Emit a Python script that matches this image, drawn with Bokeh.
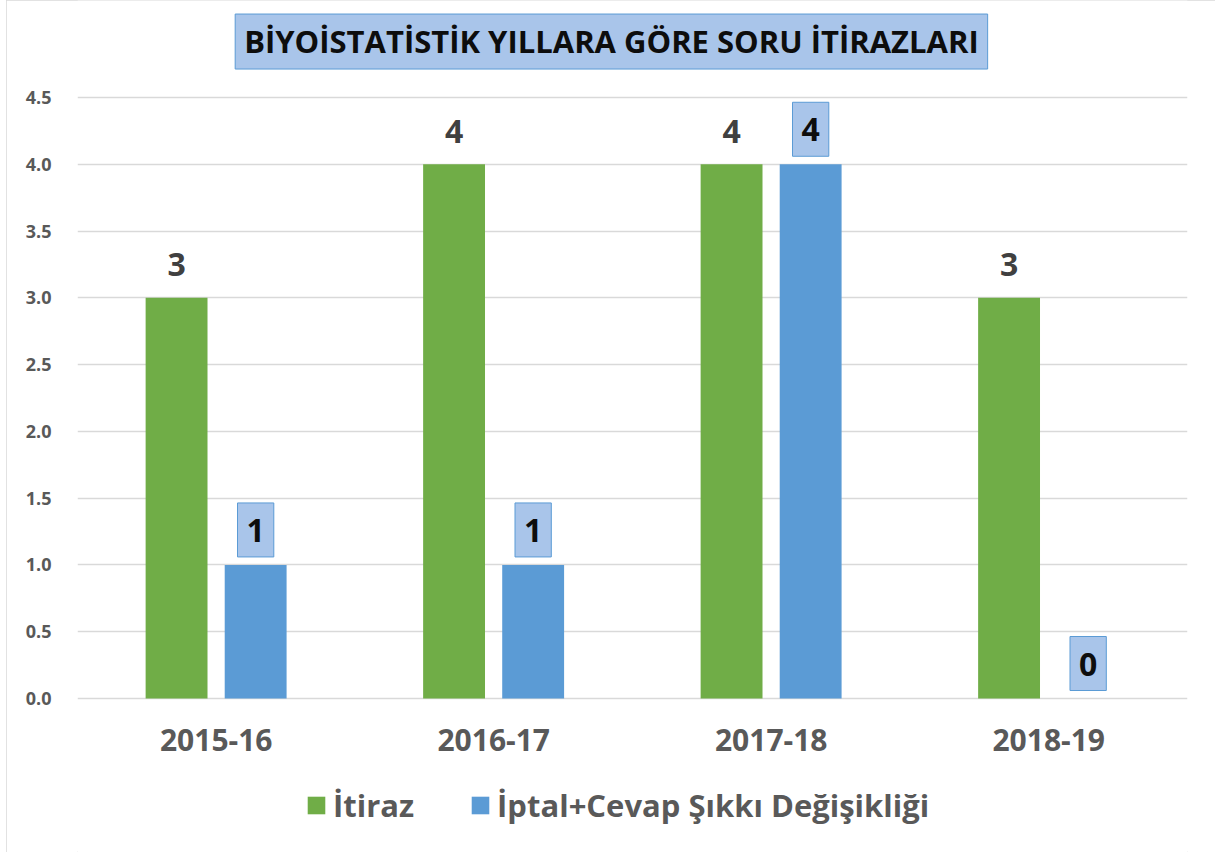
from bokeh.plotting import figure
from bokeh.models import (ColumnDataSource, FactorRange, Range1d, LabelSet, Label,
                          Legend, LegendItem, FixedTicker, NumeralTickFormatter)
from bokeh.core.properties import value
from bokeh.transform import dodge
from bokeh.embed import file_html
from bokeh.resources import INLINE

years = ["2015-16", "2016-17", "2017-18", "2018-19"]
itiraz = [3, 4, 4, 3]
iptal = [1, 1, 4, 0]
y_ticks = [0.0, 0.5, 1.0, 1.5, 2.0, 2.5, 3.0, 3.5, 4.0, 4.5]
title_text = "BİYOİSTATİSTİK YILLARA GÖRE SORU İTİRAZLARI"
series_names = ["İtiraz", "İptal+Cevap Şıkkı Değişikliği"]

GREEN = "#70ad47"
BLUE = "#5b9bd5"
GRAY = "#595959"
FONT = "Open Sans"
OFF_G = -0.143
OFF_B = 0.142

src = ColumnDataSource(dict(
    year=years, itiraz=itiraz, iptal=iptal,
    itiraz_txt=[str(v) for v in itiraz],
))

p = figure(x_range=FactorRange(*years, range_padding=0), y_range=Range1d(-1.153, 5.2263),
           width=1209, height=852, output_backend="svg", toolbar_location=None,
           min_border_left=71, min_border_right=28, min_border_top=0, min_border_bottom=0)
p.styles = {"margin-left": "6px", "outline": "1px solid #d9d9d9", "outline-offset": "-1px"}
p.outline_line_color = None
p.background_fill_color = "white"
p.border_fill_color = "white"

g = p.vbar(x=dodge("year", OFF_G, range=p.x_range), top="itiraz", width=0.223,
           source=src, fill_color=GREEN, line_color=None)
b = p.vbar(x=dodge("year", OFF_B, range=p.x_range), top="iptal", width=0.223,
           source=src, fill_color=BLUE, line_color=None)

lab_g = LabelSet(x=dodge("year", OFF_G, range=p.x_range), y="itiraz", text="itiraz_txt",
                 source=src, text_align="center", text_baseline="middle", y_offset=33,
                 text_font=value(FONT), text_font_style="bold", text_font_size="32px",
                 text_color="#404040")
p.add_layout(lab_g)

for i, v in enumerate(iptal):
    p.add_layout(Label(x=i + 0.5 + OFF_B, y=v, text=str(v), y_offset=8,
                       text_align="center", text_baseline="bottom",
                       text_font=FONT, text_font_style="bold", text_font_size="32px",
                       text_color="#0d0d0d", background_fill_color="#a9c5ea",
                       border_line_color=BLUE, border_line_width=1,
                       padding=dict(left=9, right=9, top=16, bottom=15)))

title = Label(x=1.924, y=4.919, text=title_text, text_align="center", text_baseline="middle",
              text_font=FONT, text_font_style="bold", text_font_size="31px",
              text_color="#0d0d0d", background_fill_color="#a9c5ea",
              border_line_color=BLUE, border_line_width=1,
              padding=dict(left=9, right=9, top=6, bottom=7))
p.add_layout(title)

p.xaxis.fixed_location = 0
p.yaxis.ticker = FixedTicker(ticks=y_ticks)
p.yaxis.formatter = NumeralTickFormatter(format="0.0")
for ax in (p.xaxis, p.yaxis):
    ax.axis_line_color = None
    ax.major_tick_line_color = None
    ax.minor_tick_line_color = None
    ax.major_label_text_font = FONT
    ax.major_label_text_font_style = "bold"
    ax.major_label_text_color = GRAY
p.yaxis.major_label_text_font_size = "18px"
p.yaxis.major_label_standoff = 20
p.xaxis.major_label_text_font_size = "30px"
p.xaxis.major_label_standoff = 24
p.xgrid.grid_line_color = None
p.ygrid.grid_line_color = "#d9d9d9"
p.ygrid.grid_line_width = 1.5

legend = Legend(items=[LegendItem(label=series_names[0], renderers=[g]),
                       LegendItem(label=series_names[1], renderers=[b])],
                orientation="horizontal", location=(228, 26),
                glyph_width=22, glyph_height=22, label_standoff=6, spacing=55,
                label_text_font=FONT, label_text_font_style="bold",
                label_text_font_size="31px", label_text_color=GRAY,
                border_line_color=None, background_fill_alpha=0, margin=0, padding=0)
p.add_layout(legend, "center")

open("out.html", "w").write(file_html(p, INLINE))
